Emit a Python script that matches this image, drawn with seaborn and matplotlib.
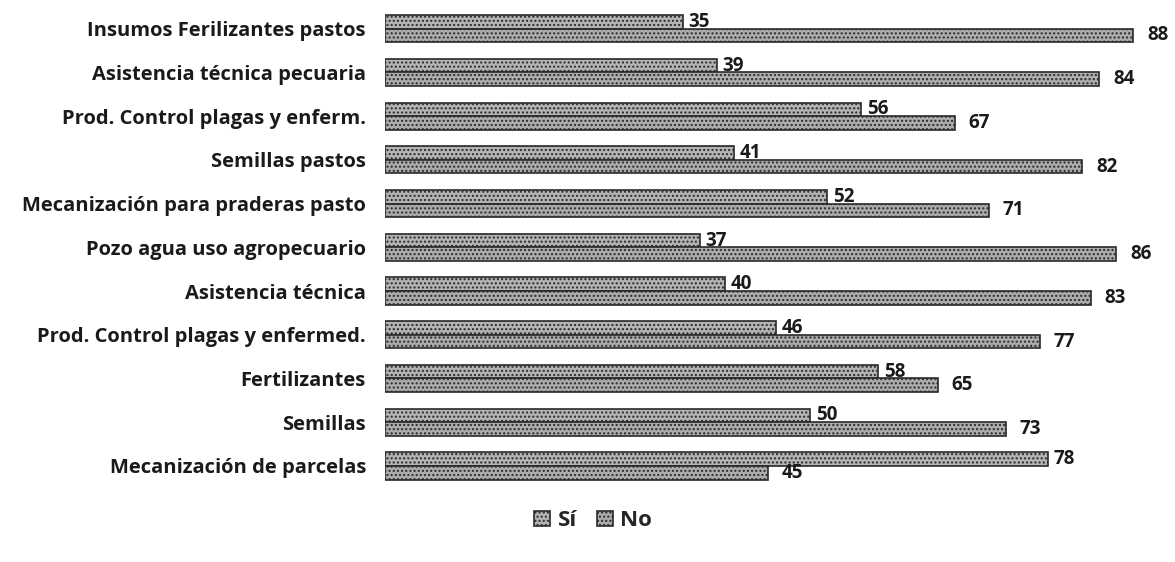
import pandas as pd
import matplotlib
matplotlib.use("Agg")
import matplotlib.pyplot as plt
import seaborn as sns

categorias = ["Insumos Ferilizantes pastos", "Asistencia técnica pecuaria",
              "Prod. Control plagas y enferm.", "Semillas pastos",
              "Mecanización para praderas pasto", "Pozo agua uso agropecuario",
              "Asistencia técnica", "Prod. Control plagas y enfermed.",
              "Fertilizantes", "Semillas", "Mecanización de parcelas"]
si = [35, 39, 56, 41, 52, 37, 40, 46, 58, 50, 78]
no = [88, 84, 67, 82, 71, 86, 83, 77, 65, 73, 45]

df = pd.DataFrame({"cat": categorias * 2,
                   "serie": ["Sí"] * len(si) + ["No"] * len(no),
                   "valor": si + no})

sns.set_style("white")
plt.rcParams['font.family'] = ['Open Sans', 'DejaVu Sans']

fig = plt.figure(figsize=(11.75, 5.62), dpi=100)
ax = fig.add_axes([0.328, 0.132, 0.6655, 0.856])

sns.barplot(data=df, y="cat", x="valor", hue="serie", orient="h",
            palette=["#b4b4b4", "#acacac"], width=0.62, ax=ax,
            edgecolor="#222222", linewidth=1.2, legend=True)

for p in ax.patches:
    p.set_hatch("....")
    p.set_edgecolor("#2a2a2a")

# Sí labels sit right at the bar end, No labels a bit further out
ax.bar_label(ax.containers[0], padding=4, fontsize=13.5, fontweight="bold", color="#1a1a1a")
ax.bar_label(ax.containers[1], padding=10, fontsize=13.5, fontweight="bold", color="#1a1a1a")

ax.set_xlim(0, 92)
ax.set_ylim(10.5, -0.5)
ax.set_xlabel("")
ax.set_ylabel("")
ax.set_xticks([])
ax.tick_params(axis="y", length=0, pad=14, labelsize=14.5)
for t in ax.get_yticklabels():
    t.set_fontweight("bold")
    t.set_color("#1a1a1a")
sns.despine(ax=ax, left=True, bottom=True)

h, l = ax.get_legend_handles_labels()
ax.get_legend().remove()
leg = fig.legend(h, l, loc="center", bbox_to_anchor=(0.505, 0.073), ncol=2,
                 frameon=False, fontsize=16, handlelength=0.7, handleheight=0.7,
                 columnspacing=0.9, handletextpad=0.35)
for t in leg.get_texts():
    t.set_fontweight("bold")

fig.savefig("out.png", dpi=100)
